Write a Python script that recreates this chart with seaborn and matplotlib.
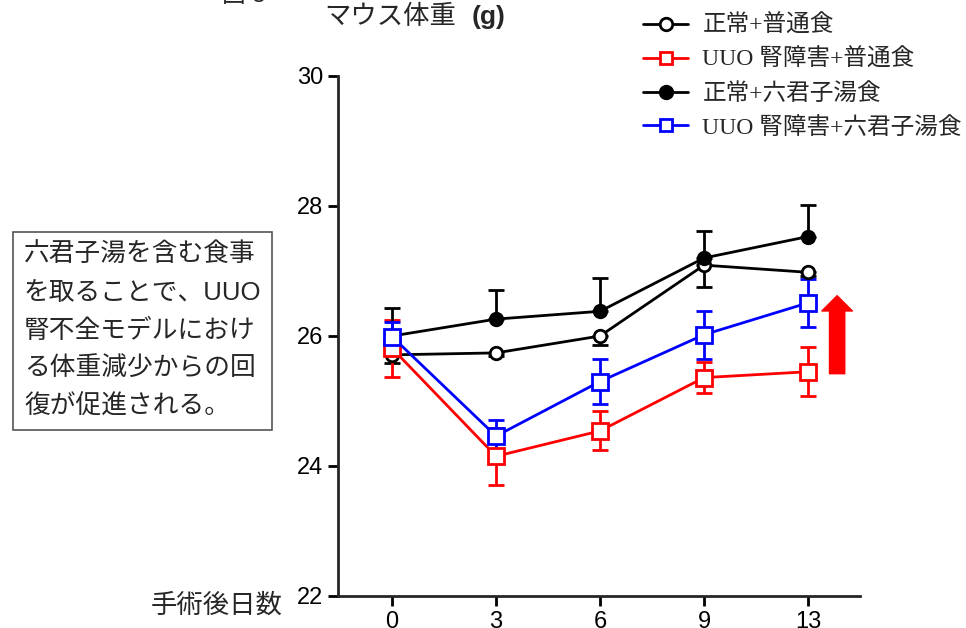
import matplotlib
matplotlib.use("Agg")
import matplotlib.pyplot as plt
from matplotlib.lines import Line2D
import numpy as np
import pandas as pd
import seaborn as sns

# データ
days = ["0", "3", "6", "9", "13"]
series_names = ["正常+普通食", "UUO 腎障害+普通食", "正常+六君子湯食", "UUO 腎障害+六君子湯食"]
normal_std = [25.71, 25.74, 26.00, 27.09, 26.98]
normal_std_err = [0.12, 0.05, 0.14, 0.33, 0.05]
uuo_std = [25.81, 24.15, 24.54, 25.36, 25.45]
uuo_std_err = [0.44, 0.44, 0.30, 0.24, 0.38]
normal_rkt = [26.00, 26.26, 26.38, 27.20, 27.53]
normal_rkt_err = [0.43, 0.45, 0.51, 0.42, 0.49]
uuo_rkt = [25.99, 24.46, 25.30, 26.02, 26.51]
uuo_rkt_err = [0.23, 0.25, 0.35, 0.37, 0.37]

y_ticks = [22, 24, 26, 28, 30]
note_text = "六君子湯を含む食事\nを取ることで、UUO\n腎不全モデルにおけ\nる体重減少からの回\n復が促進される。"

sns.set_style("ticks")
plt.rcParams["font.family"] = ["Liberation Sans", "Noto Sans CJK JP", "DejaVu Sans"]

fig = plt.figure(figsize=(9.66, 6.28), dpi=100)
ax = fig.add_axes([338 / 966, 1 - 596 / 628, (860 - 338) / 966, (596 - 76) / 628])

pos = np.arange(len(days))
# (値, 誤差, 色, マーカー, 塗り, 誤差方向)
styles = [
    (normal_std, normal_std_err, "black", "o", "white", "down"),
    (uuo_std, uuo_std_err, "red", "s", "white", "both"),
    (normal_rkt, normal_rkt_err, "black", "o", "black", "up"),
    (uuo_rkt, uuo_rkt_err, "blue", "s", "white", "both"),
]

for name, (vals, err, col, mk, fc, direc) in zip(series_names, styles):
    df = pd.DataFrame({"pos": pos, "val": vals})
    err = np.array(err)
    lo = err if direc in ("down", "both") else np.zeros_like(err)
    hi = err if direc in ("up", "both") else np.zeros_like(err)
    ax.errorbar(pos, vals, yerr=[lo, hi], fmt="none", ecolor=col,
                elinewidth=2, capsize=6, capthick=2, zorder=2)
    ms = 11 if mk == "s" else 9
    sns.lineplot(data=df, x="pos", y="val", ax=ax, color=col, linewidth=2,
                 marker=mk, markersize=ms, markerfacecolor=fc,
                 markeredgecolor=col, markeredgewidth=2, zorder=3)

ax.set_xlim(-0.52, 4.5)
ax.set_ylim(22, 30)
ax.set_yticks(y_ticks)
ax.set_xticks(pos)
ax.set_xticklabels(days)
ax.set_xlabel("")
ax.set_ylabel("")
for s in ["top", "right"]:
    ax.spines[s].set_visible(False)
for s in ["left", "bottom"]:
    ax.spines[s].set_linewidth(2)
ax.tick_params(axis="both", width=2, length=7, labelsize=17, colors="black")
ax.tick_params(axis="x", pad=4)

# 矢印
ax.annotate("", xy=(4.28, 26.62), xytext=(4.28, 25.42),
            arrowprops=dict(facecolor="red", edgecolor="red", shrink=0,
                            width=11, headwidth=22, headlength=11))

# 凡例
handles = []
for name, (vals, err, col, mk, fc, direc) in zip(series_names, styles):
    handles.append(Line2D([0], [0], color=col, linewidth=2, marker=mk,
                          markersize=9 if mk == "o" else 8,
                          markerfacecolor=fc, markeredgecolor=col, markeredgewidth=2))
leg = fig.legend(handles, series_names, loc="upper left", bbox_to_anchor=(622 / 966, 1.01),
                 frameon=False, handlelength=1.9, handletextpad=0.6, labelspacing=0.5,
                 prop={"family": ["Liberation Serif", "Noto Sans CJK JP"], "size": 17})

# テキスト
fig.text(324 / 966, 1 - 17 / 628, "マウス体重", fontsize=19, va="center", ha="left")
fig.text(472 / 966, 1 - 17 / 628, "(g)", fontsize=19, fontweight="bold", va="center", ha="left")
fig.text(222 / 966, 1 + 4 / 628, "図 3", fontsize=17, va="center", ha="left")
fig.text(217 / 966, 1 - 606 / 628, "手術後日数", fontsize=19, va="center", ha="center")
fig.text(24 / 966, 1 - 331 / 628, note_text, fontsize=18.5, va="center", ha="left",
         linespacing=1.72,
         bbox=dict(boxstyle="square,pad=0.42", facecolor="white", edgecolor="#555555", linewidth=1.2))

fig.savefig("out.png", dpi=100)
